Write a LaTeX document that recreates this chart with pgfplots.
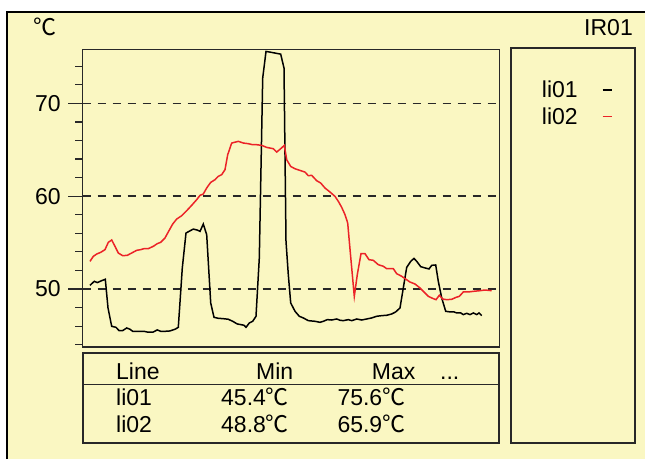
\documentclass[border=0pt]{standalone}
\usepackage{fontspec}
\setmainfont{Liberation Sans}
\newfontfamily\cjk{Noto Sans CJK SC}
\usepackage{pgfplots}
\pgfplotsset{compat=1.18}
\usepackage{pgfplotstable}

\definecolor{bgyellow}{RGB}{250,247,194}
\definecolor{framegray}{RGB}{40,40,40}
\definecolor{linered}{RGB}{235,35,40}
\newcommand{\dc}{{\cjk ℃}}
\newcommand{\chartfont}{\fontsize{23}{27}\selectfont}

% li01 (black), x = position along the trace, y in degC
\pgfplotstableread{
x y
90.0 50.40
94.3 50.83
97.3 50.69
101.7 50.90
105.3 51.05
108.0 47.96
111.7 45.98
116.0 45.87
119.0 45.52
122.7 45.52
126.7 45.80
130.0 45.66
132.7 45.44
140.0 45.44
144.0 45.44
148.3 45.34
152.7 45.34
157.3 45.59
160.7 45.44
165.0 45.44
170.0 45.48
175.0 45.66
178.3 45.87
182.3 52.27
186.0 56.03
189.0 56.21
193.3 56.46
197.3 56.35
200.0 56.21
203.3 57.00
206.7 55.85
210.7 48.50
214.0 46.95
218.3 46.84
222.7 46.81
228.3 46.74
232.7 46.52
237.3 46.23
241.0 46.16
244.0 46.09
246.0 45.87
249.3 46.34
252.7 46.52
256.0 47.06
259.3 53.34
262.7 72.73
266.0 75.60
270.0 75.53
280.7 75.31
284.0 73.81
286.0 55.14
288.3 51.55
290.7 48.50
295.0 47.60
299.3 47.06
303.3 46.88
308.3 46.59
315.0 46.52
320.0 46.41
323.3 46.52
327.3 46.70
331.7 46.66
336.7 46.77
340.0 46.63
343.3 46.59
348.3 46.70
351.7 46.59
356.7 46.77
361.7 46.66
366.7 46.77
371.7 46.88
376.7 47.06
381.7 47.13
386.7 47.17
391.7 47.31
395.7 47.53
400.0 47.96
403.3 50.11
406.7 52.33
410.7 52.98
414.0 53.30
416.7 52.98
420.7 52.41
425.0 52.27
429.0 52.16
431.7 52.55
435.7 52.59
438.3 50.83
441.7 49.04
445.7 47.60
450.0 47.53
454.0 47.53
456.7 47.42
460.7 47.42
463.3 47.24
466.7 47.38
470.0 47.24
473.3 47.42
476.7 47.24
479.0 47.42
481.7 47.13
}\lione

% li02 (red)
\pgfplotstableread{
x y
90.0 52.98
93.3 53.52
96.7 53.77
100.7 53.95
105.0 54.24
108.3 55.03
111.7 55.28
115.0 54.60
118.3 53.88
122.7 53.59
127.3 53.63
131.7 53.88
136.7 54.17
140.7 54.24
144.0 54.35
148.3 54.35
153.3 54.60
157.3 54.89
160.7 55.03
165.0 55.50
169.0 56.29
172.7 57.00
176.7 57.54
181.7 57.90
186.7 58.44
191.7 59.02
196.7 59.63
200.0 60.09
203.3 60.24
206.7 60.89
210.7 61.49
215.0 61.78
218.3 62.14
221.7 62.32
225.0 62.86
227.7 64.47
231.7 65.73
238.3 65.91
243.3 65.73
248.3 65.66
252.7 65.55
256.7 65.55
261.7 65.48
266.7 65.26
273.3 65.12
276.7 64.76
280.7 65.12
284.3 65.48
286.7 63.93
290.7 63.21
295.0 62.96
300.0 62.78
305.0 62.60
308.3 62.21
311.7 62.25
316.7 61.67
320.7 61.42
325.0 60.88
330.0 60.45
335.0 59.98
338.3 59.45
341.7 58.80
345.0 58.01
347.7 57.11
349.3 55.14
351.7 52.27
354.3 49.21
357.3 51.55
361.0 53.81
365.0 53.81
369.0 53.16
373.3 53.09
378.3 52.62
383.3 52.45
386.7 52.19
390.0 52.19
393.3 52.19
396.7 51.65
401.7 51.37
405.0 51.12
410.0 50.75
415.0 50.54
420.0 50.11
424.0 49.68
428.3 49.21
433.3 48.96
436.0 48.85
439.3 49.32
442.7 48.92
446.7 48.85
451.7 48.89
456.0 49.10
459.3 49.21
463.3 49.68
468.3 49.68
473.3 49.75
480.0 49.82
485.0 49.89
491.7 49.82
}\litwo

\begin{document}
\begin{tikzpicture}[x=1pt,y=1pt]
\path[use as bounding box] (0,0) rectangle (645,459);
\fill[white] (0,0) rectangle (645,459);
\fill[bgyellow] (7,0) rectangle (645,446.5);
\draw[line width=2pt,black] (7,0) -- (7,446.5) -- (645,446.5);

\begin{axis}[
  at={(82.7,120.7)}, anchor=south west,
  scale only axis, width=416.6pt, height=297.4pt,
  xmin=82.7, xmax=499.3, ymin=43.75, ymax=75.8,
  xtick=\empty,
  ytick={50,60,70}, minor ytick={44,46,...,74},
  ytick pos=left, tick align=outside,
  major tick length=14.5pt, minor tick length=7.5pt,
  every tick/.style={line width=1.2pt,framegray},
  ymajorgrids,
  major grid style={line width=1.5pt,framegray,dash pattern=on 8pt off 7pt},
  axis line style={line width=1.5pt,framegray},
  tick label style={font=\chartfont},
  yticklabel style={xshift=-4pt},
  /pgf/number format/assume math mode=true,
  clip=false,
]
\addplot[black,line width=1.5pt] table[x=x,y=y] {\lione};
\addplot[linered,line width=1.5pt] table[x=x,y=y] {\litwo};
\end{axis}

% legend panel
\draw[line width=2pt,framegray] (511,410.7) rectangle (635.3,16.3);
\node[anchor=base west,inner sep=0,font=\chartfont] at (541.7,362) {li01};
\node[anchor=base west,inner sep=0,font=\chartfont] at (541.7,335) {li02};
\draw[black,line width=1.3pt] (602.7,369) -- (611.7,369);
\draw[linered,line width=1.3pt] (602.7,342.3) -- (611.7,342.3);

% statistics table
\draw[line width=2pt,framegray] (82.7,105.7) rectangle (499.3,16.3);
\draw[line width=1.5pt,framegray] (82.7,74.7) -- (499.3,74.7);
\begin{scope}[every node/.style={anchor=base west,inner sep=0,font=\chartfont}]
\node at (116,80) {Line};
\node at (256,80) {Min};
\node at (371.7,80) {Max};
\node at (440,80) {...};
\node at (116,53.3) {li01};
\node at (221,53.3) {45.4\dc};
\node at (337.3,53.3) {75.6\dc};
\node at (116,26.7) {li02};
\node at (221,26.7) {48.8\dc};
\node at (337.3,26.7) {65.9\dc};
\end{scope}

% header
\node[anchor=base west,inner sep=0,font=\chartfont] at (33,423) {\dc};
\node[anchor=base east,inner sep=0,font=\chartfont] at (633,423) {IR01};
\end{tikzpicture}
\end{document}
